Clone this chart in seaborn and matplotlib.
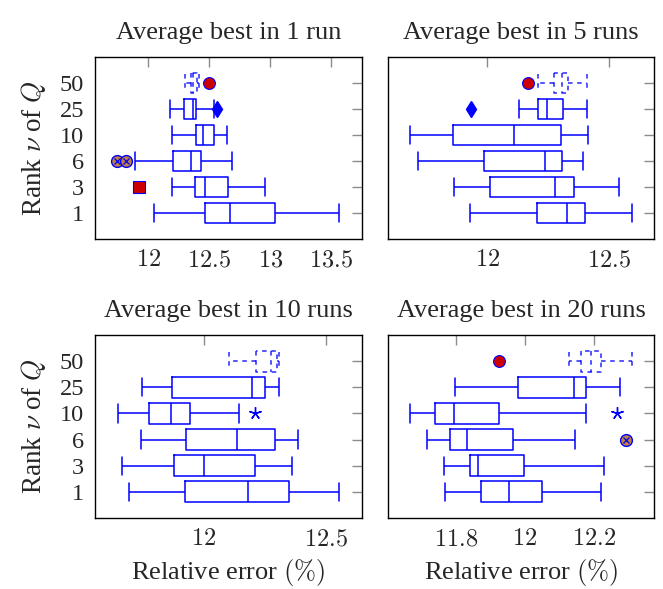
import matplotlib
matplotlib.use("Agg")
import matplotlib.pyplot as plt
import seaborn as sns
import numpy as np
import pandas as pd

# rank of Q, top row first
ranks = ["50", "25", "10", "6", "3", "1"]

# five-number summaries per rank: [low whisker, q1, median, q3, high whisker]
best_1 = [
    [12.300, 12.347, 12.369, 12.396, 12.412],
    [12.175, 12.295, 12.366, 12.394, 12.539],
    [12.191, 12.394, 12.446, 12.541, 12.645],
    [11.889, 12.202, 12.350, 12.429, 12.689],
    [12.191, 12.383, 12.467, 12.650, 12.954],
    [12.049, 12.465, 12.672, 13.041, 13.560],
]
best_5 = [
    [12.208, 12.275, 12.306, 12.333, 12.411],
    [12.129, 12.208, 12.247, 12.312, 12.411],
    [11.685, 11.860, 12.110, 12.303, 12.414],
    [11.718, 11.988, 12.238, 12.307, 12.393],
    [11.866, 12.010, 12.277, 12.356, 12.541],
    [11.928, 12.204, 12.329, 12.403, 12.595],
]
best_10 = [
    [12.105, 12.213, 12.275, 12.298, 12.309],
    [11.749, 11.869, 12.196, 12.248, 12.308],
    [11.651, 11.776, 11.865, 11.945, 12.143],
    [11.745, 11.928, 12.135, 12.292, 12.383],
    [11.665, 11.880, 12.000, 12.208, 12.362],
    [11.696, 11.925, 12.180, 12.346, 12.554],
]
best_20 = [
    [12.129, 12.162, 12.193, 12.220, 12.310],
    [11.798, 11.981, 12.144, 12.178, 12.275],
    [11.668, 11.738, 11.795, 11.924, 12.178],
    [11.717, 11.783, 11.833, 11.965, 12.147],
    [11.765, 11.842, 11.865, 11.998, 12.229],
    [11.767, 11.873, 11.955, 12.051, 12.221],
]

# outliers: (rank, value, mark kind)
out_1 = [("50", 12.498, "circle"), ("25", 12.560, "diamond"), ("6", 11.746, "otimes"),
         ("6", 11.815, "otimes"), ("3", 11.924, "square")]
out_5 = [("50", 12.169, "circle"), ("25", 11.934, "diamond")]
out_10 = [("10", 12.211, "star")]
out_20 = [("50", 11.924, "circle"), ("10", 12.269, "star"), ("6", 12.295, "otimes")]

titles = ["Average best in 1 run", "Average best in 5 runs",
          "Average best in 10 runs", "Average best in 20 runs"]
xlims = [(11.563, 13.751), (11.593, 12.685), (11.556, 12.646), (11.603, 12.375)]
xticks = [[12, 12.5, 13, 13.5], [12, 12.5], [12, 12.5], [11.8, 12, 12.2]]

sns.set_theme(style="white")
plt.rcParams["font.family"] = ["Liberation Serif", "DejaVu Serif"]
plt.rcParams["mathtext.fontset"] = "cm"

blue = "#0000ff"
red = "#cc0000"
brown = "#bf8040"


def draw_outliers(ax, outs):
    for r, v, kind in outs:
        y = ranks.index(r)
        if kind == "circle":
            ax.plot(v, y, "o", ms=8.5, mfc=red, mec=blue, mew=0.8, zorder=5)
        elif kind == "square":
            ax.plot(v, y, "s", ms=8, mfc=red, mec=blue, mew=0.8, zorder=5)
        elif kind == "diamond":
            ax.plot(v, y, "d", ms=8, mfc=blue, mec=blue, zorder=5)
        elif kind == "star":
            ax.plot(v, y, marker=(5, 2, 0), ms=9, color=blue, mew=1.0, zorder=5)
        elif kind == "otimes":
            ax.plot(v, y, "o", ms=8.5, mfc=brown, mec=blue, mew=1.0, zorder=5)
            ax.plot(v, y, "x", ms=5, color=blue, mew=0.9, zorder=6)


def draw_panel(ax, stats, outs, xlim, ticks, title):
    rows = [(r, v) for r, s in zip(ranks, stats) for v in s]
    df = pd.DataFrame(rows, columns=["rank", "err"])
    solid = df[df["rank"] != "50"]
    dashed = df[df["rank"] == "50"]
    sns.boxplot(data=solid, x="err", y="rank", order=ranks, whis=np.inf, fill=False,
                color=blue, width=0.8, linewidth=1.1, capwidths=0.7, ax=ax)
    dash = dict(linestyle=(0, (3, 3)), alpha=0.85)
    sns.boxplot(data=dashed, x="err", y="rank", order=ranks, whis=np.inf, fill=False,
                color=blue, width=0.8, linewidth=1.1, capwidths=0.7,
                boxprops=dash, whiskerprops=dash, capprops=dash, medianprops=dash, ax=ax)
    draw_outliers(ax, outs)
    ax.set_xlim(*xlim)
    ax.set_ylim(6, -1)
    ax.set_yticks(range(len(ranks)))
    ax.set_yticklabels(ranks)
    ax.set_xticks(ticks)
    ax.set_xticklabels([f"${t:g}$" for t in ticks])
    ax.set_xlabel("")
    ax.set_ylabel("")
    ax.set_title(title, fontsize=19, pad=13)
    ax.tick_params(direction="in", top=True, right=True, length=7, width=1,
                   color="0.55", labelsize=17.5, pad=8)
    for sp in ax.spines.values():
        sp.set_color("black")
        sp.set_linewidth(1.0)


fig = plt.figure(figsize=(6.63, 5.89), dpi=100)
W, H = 663, 589
boxes = [(95, 57, 362, 239), (388, 57, 654, 239), (95, 335, 362, 518), (388, 335, 654, 518)]
axes = []
for (l, t, r, b) in boxes:
    axes.append(fig.add_axes([l / W, 1 - b / H, (r - l) / W, (b - t) / H]))

panels = [best_1, best_5, best_10, best_20]
outs = [out_1, out_5, out_10, out_20]
for i, ax in enumerate(axes):
    draw_panel(ax, panels[i], outs[i], xlims[i], xticks[i], titles[i])

for ax in (axes[1], axes[3]):
    ax.set_yticklabels([])
for ax in (axes[0], axes[2]):
    ax.set_ylabel(r"Rank $\nu$ of $Q$", fontsize=19.5, labelpad=8)
for ax in (axes[2], axes[3]):
    ax.set_xlabel(r"Relative error $(\%)$", fontsize=19, labelpad=5)

fig.savefig("out.png", dpi=100)
